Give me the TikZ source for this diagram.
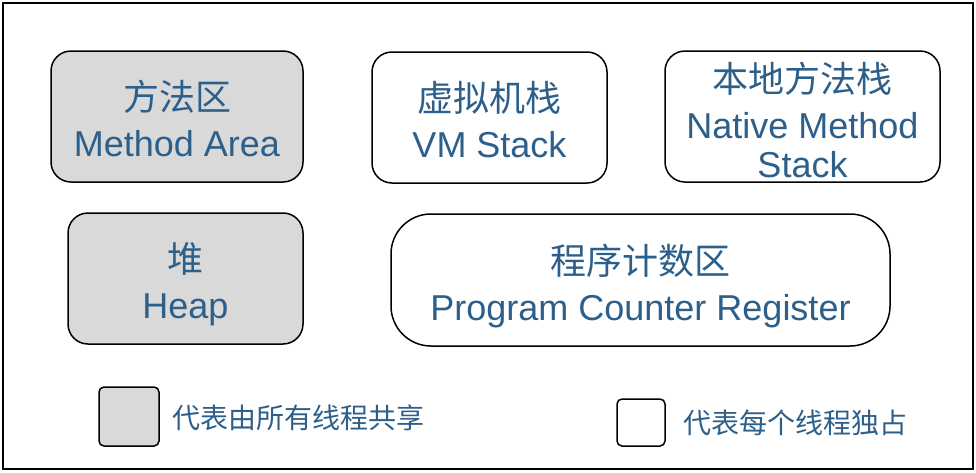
\documentclass[tikz,border=0pt]{standalone}
\usepackage{fontspec}
\setmainfont{Liberation Sans}
\newfontfamily\cjk{Noto Sans CJK SC}
\usetikzlibrary{positioning}
\definecolor{areablue}{HTML}{2D5F8B}
\definecolor{sharegray}{HTML}{D9D9D9}
\newcommand{\lift}[1]{\rule{0pt}{#1}}

\begin{document}
\begin{tikzpicture}[
  x=1pt, y=-1pt,
  rnode/.style={rectangle, rounded corners=20pt, draw=black, line width=1.5pt,
    fill=white, text=areablue, align=center, inner sep=0pt,
    font=\fontsize{36}{46}\selectfont},
  snode/.style={rnode, fill=sharegray},
  legbox/.style={rectangle, rounded corners=5pt, draw=black, line width=1.5pt,
    inner sep=0pt},
  legtxt/.style={text=areablue, font=\cjk\fontsize{28}{34}\selectfont, anchor=west}
]
\useasboundingbox (0,0) rectangle (976,472);

% ---- Outer frame ----
\draw[line width=2pt] (3,3) rectangle (973,469);

% ---- Shared areas ----
\node[snode, minimum width=252pt, minimum height=131pt] (method) at (177,116.5)
  {\lift{34pt}{\cjk 方法区}\\Method Area};
\node[snode, minimum width=235pt, minimum height=131pt] (heap) at (185.5,278.5)
  {\lift{42pt}{\cjk 堆}\\Heap};

% ---- Per-thread areas ----
\node[rnode, minimum width=235pt, minimum height=131pt] (vmstack) at (489.5,117.5)
  {\lift{34pt}{\cjk 虚拟机栈}\\VM Stack};
\node[rnode, minimum width=275pt, minimum height=131pt] (native) at (802.5,116.5)
  {\lift{37pt}{\cjk 本地方法栈}\\Native Method\\[-7pt]Stack};
\node[rnode, rounded corners=40pt, minimum width=499pt, minimum height=132pt] (pc) at (640.5,280)
  {\lift{42pt}{\cjk 程序计数区}\\Program Counter Register};

% ---- Legend ----
\node[legbox, fill=sharegray, minimum width=60pt, minimum height=59pt] (legshared) at (129,416.5) {};
\node[legtxt, right=9pt of legshared, yshift=-1pt] (legsharedtxt) {代表由所有线程共享};

\node[legbox, fill=white, minimum width=48pt, minimum height=47pt] (legown) at (641,422.5) {};
\node[legtxt, right=14pt of legown] (legowntxt) {代表每个线程独占};

\end{tikzpicture}
\end{document}
